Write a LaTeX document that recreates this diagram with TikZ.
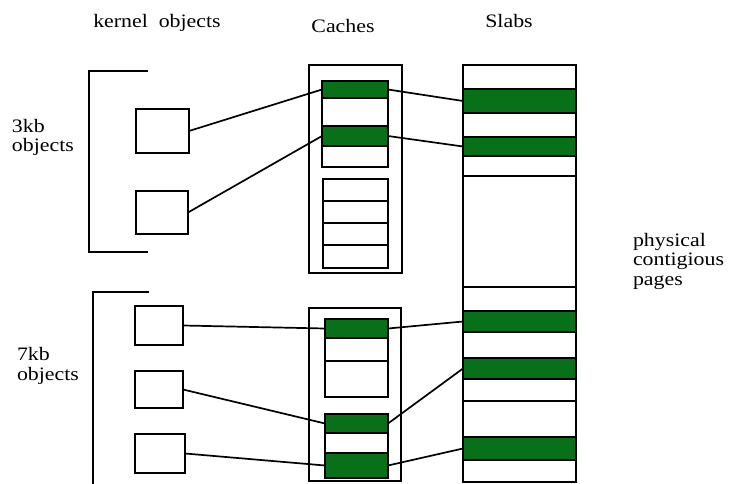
\documentclass[tikz,border=0pt]{standalone}
\usepackage{fontspec}
\setmainfont{Liberation Serif}[FakeStretch=1.15]
\definecolor{slabgreen}{RGB}{8,112,24}
\begin{document}
\begin{tikzpicture}[x=1pt,y=-1pt,
  every node/.style={inner sep=0pt, outer sep=0pt},
  ln/.style={line width=1.8pt, line cap=rect},
  wire/.style={line width=1.7pt},
  kobj/.style={draw, line width=1.8pt, anchor=north west},
  used/.style={draw, line width=1.8pt, fill=slabgreen, anchor=north west},
  lbl/.style={font=\fontsize{19}{19.5}\selectfont, align=left, anchor=base west},
  ttl/.style={font=\fontsize{19}{19.5}\selectfont, anchor=base}]
\useasboundingbox (0,0) rectangle (729,484);

% column titles
\node[ttl] (tk) at (157,28) {kernel\ \ objects};
\node[ttl] (tc) at (343,33) {Caches};
\node[ttl] (ts) at (509,28) {Slabs};

% side labels (anchored on the baseline of their last line)
\node[lbl] (l3) at (12,152) {3kb\\objects};
\node[lbl] (l7) at (17,380) {7kb\\objects};
\node[lbl] (lp) at (633,285) {physical\\contigious\\pages};

% brackets grouping the kernel objects
\draw[ln] (147,71) -- (89,71) -- (89,252) -- (147,252);
\draw[ln] (148,292) -- (93,292) -- (93,484);

% kernel objects
\node[kobj, minimum width=53pt, minimum height=44pt] (o1) at (136,109) {};
\node[kobj, minimum width=52pt, minimum height=43pt] (o2) at (136,191) {};
\node[kobj, minimum width=48pt, minimum height=39pt] (o3) at (135,306) {};
\node[kobj, minimum width=48pt, minimum height=37pt] (o4) at (135,371) {};
\node[kobj, minimum width=50pt, minimum height=39pt] (o5) at (135,434) {};

% upper cache
\draw[ln] (309,65) rectangle (402,273);
\draw[ln] (322,81) rectangle (388,167);
\node[used, minimum width=66pt, minimum height=17pt] (c1) at (322,81) {};
\node[used, minimum width=66pt, minimum height=20pt] (c2) at (322,126) {};
\draw[ln] (322,146) -- (388,146);
\draw[ln] (323,179) rectangle (388,268);
\draw[ln] (323,201) -- (388,201);
\draw[ln] (323,223) -- (388,223);
\draw[ln] (323,245) -- (388,245);

% lower cache
\draw[ln] (309,308) rectangle (401,481);
\draw[ln] (325,319) rectangle (388,397);
\node[used, minimum width=63pt, minimum height=19pt] (c3) at (325,319) {};
\draw[ln] (325,361) -- (388,361);
\draw[ln] (325,414) rectangle (388,478);
\node[used, minimum width=63pt, minimum height=19pt] (c4) at (325,414) {};
\node[used, minimum width=63pt, minimum height=25pt] (c5) at (325,453) {};

% slabs
\draw[ln] (463,65) rectangle (576,482);
\node[used, minimum width=113pt, minimum height=24pt] (s1) at (463,89) {};
\node[used, minimum width=113pt, minimum height=19pt] (s2) at (463,137) {};
\node[used, minimum width=113pt, minimum height=21pt] (s3) at (463,311) {};
\node[used, minimum width=113pt, minimum height=21pt] (s4) at (463,358) {};
\node[used, minimum width=113pt, minimum height=23pt] (s5) at (463,437) {};
\draw[ln] (463,176) -- (576,176);
\draw[ln] (463,287) -- (576,287);
\draw[ln] (463,401) -- (576,401);

% object -> cache
\draw[wire] (o1.east) -- (c1.west);
\draw[wire] (o2.east) -- (c2.west);
\draw[wire] (o3.east) -- (c3.west);
\draw[wire] (o4.east) -- (c4.west);
\draw[wire] (o5.east) -- (c5.west);

% cache -> slab
\draw[wire] (c1.east) -- (s1.west);
\draw[wire] (c2.east) -- (s2.west);
\draw[wire] (c3.east) -- (s3.west);
\draw[wire] (c4.east) -- (s4.west);
\draw[wire] (c5.east) -- (s5.west);
\end{tikzpicture}
\end{document}
